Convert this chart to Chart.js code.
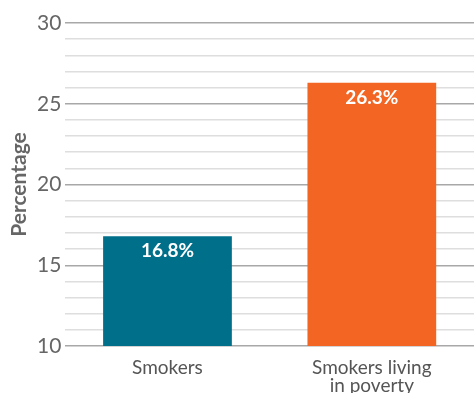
<!DOCTYPE html>
<html>
<head>
<meta charset="utf-8">
<script src="https://cdn.jsdelivr.net/npm/chart.js@4"></script>
<style>
  html, body { margin: 0; padding: 0; background: #fff; }
</style>
</head>
<body>
<canvas id="myChart" width="474" height="394"></canvas>
<script>
const categorias = ["Smokers", ["Smokers living", "in poverty"]];
const porcentajes = [16.8, 26.3];
const colores = ["#006f8a", "#f26522"];
const etiquetas = ["16.8%", "26.3%"];

const miGraf = document.querySelector("#myChart");

Chart.defaults.font.family = "Lato";
Chart.defaults.font.lineHeight = 0.95;

// etiquetas blancas dentro de cada barra
const etiquetasBarras = {
  id: "etiquetasBarras",
  afterDatasetsDraw(chart) {
    const ctx = chart.ctx;
    const meta = chart.getDatasetMeta(0);
    ctx.save();
    ctx.fillStyle = "#fff";
    ctx.font = "bold 19px Lato";
    ctx.textAlign = "center";
    ctx.textBaseline = "middle";
    meta.data.forEach((bar, i) => {
      ctx.fillText(etiquetas[i], bar.x, bar.y + 15);
    });
    ctx.restore();
  },
};

const config = {
  type: "bar",
  data: {
    labels: categorias,
    datasets: [
      {
        data: porcentajes,
        backgroundColor: colores,
        barPercentage: 0.63,
        categoryPercentage: 1,
      },
    ],
  },
  options: {
    responsive: false,
    animation: false,
    layout: { padding: { top: 23, right: 0, bottom: 1, left: 5 } },
    plugins: { legend: { display: false }, tooltip: { enabled: false } },
    scales: {
      x: {
        grid: { display: false, drawTicks: false },
        border: { display: false },
        afterFit: (escala) => {
          escala.height = 47;
        },
        ticks: {
          color: "#555",
          font: { size: 19 },
          padding: 13,
        },
      },
      y: {
        min: 10,
        max: 30,
        border: { display: false },
        grid: {
          drawTicks: false,
          color: (c) => (c.tick && c.tick.value % 5 === 0 ? "#a8a8a8" : "#dedede"),
          lineWidth: 1.5,
        },
        ticks: {
          stepSize: 1,
          autoSkip: false,
          padding: 4,
          color: "#666",
          font: { size: 21 },
          callback: (v) => (v % 5 === 0 ? v : ""),
        },
        title: {
          display: true,
          text: "Percentage",
          color: "#666",
          font: { size: 21, weight: "bold" },
          padding: 4,
        },
      },
    },
  },
  plugins: [etiquetasBarras],
};

new Chart(miGraf, config);
</script>
</body>
</html>
